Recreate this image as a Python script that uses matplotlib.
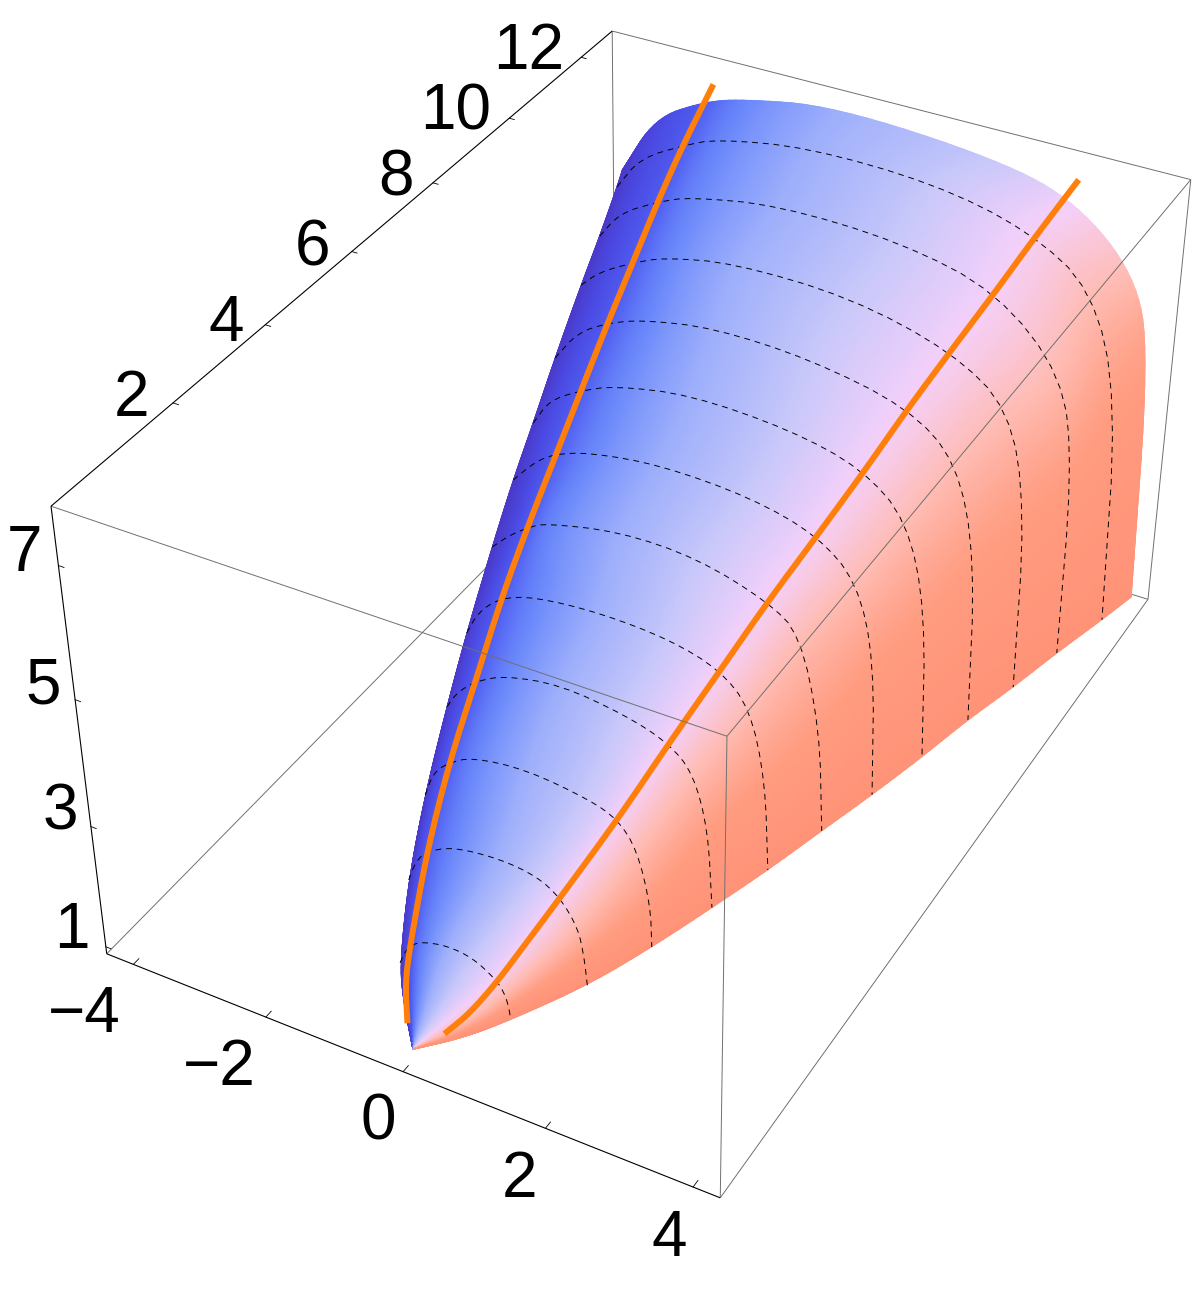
import numpy as np
import matplotlib
matplotlib.use("Agg")
from matplotlib import pyplot as plt
from matplotlib.colors import LinearSegmentedColormap

# Box ranges
x_lim = (-4.41, 4.36)
y_lim = (-0.45, 12.9)
z_lim = (0.88, 7.85)

# Tick values and labels
x_ticks = [-4, -2, 0, 2, 4]
y_ticks = [2, 4, 6, 8, 10, 12]
z_ticks = [1, 3, 5, 7]
x_labels = ["\u22124", "\u22122", "0", "2", "4"]

# Surface sections: one row per y level, same number of points across each row
levels = [0, 0.25, 1, 2, 3, 4, 5, 6, 7, 8, 9, 10, 11, 12, 12.5]
surf_x = [
    [-0.14] * 10,
    [-0.41, -0.37, -0.3, -0.18, -0.01, 0.17, 0.29, 0.37, 0.41, 0.44],
    [-0.93, -0.85, -0.74, -0.57, -0.22, 0.15, 0.49, 0.6, 0.65, 0.67],
    [-1.4, -1.29, -1.13, -0.72, -0.02, 0.51, 0.83, 1.08, 1.16, 1.2],
    [-1.74, -1.6, -1.38, -1.0, -0.2, 0.71, 1.1, 1.37, 1.56, 1.58],
    [-1.99, -1.83, -1.54, -1.09, -0.28, 0.66, 1.27, 1.63, 1.85, 1.92],
    [-2.27, -2.08, -1.73, -1.21, -0.25, 0.76, 1.48, 1.91, 2.15, 2.22],
    [-2.45, -2.17, -1.9, -1.63, -0.51, 0.62, 1.64, 2.11, 2.43, 2.51],
    [-2.7, -2.38, -2.07, -1.51, -0.46, 0.86, 1.83, 2.42, 2.71, 2.77],
    [-2.96, -2.69, -2.22, -1.68, -0.55, 0.93, 1.97, 2.64, 2.97, 3.04],
    [-3.18, -2.82, -2.34, -1.76, -0.73, 0.71, 2.14, 2.88, 3.22, 3.27],
    [-3.32, -3.02, -2.5, -2.0, -0.96, 0.79, 2.3, 3.17, 3.49, 3.51],
    [-3.58, -3.25, -2.65, -2.14, -0.81, 1.04, 2.48, 3.5, 3.74, 3.74],
    [-3.85, -3.47, -2.79, -2.25, -0.86, 1.04, 2.45, 3.45, 3.93, 4.01],
    [-4.04, -3.5, -2.75, -2.15, -0.72, 1.79, 2.94, 3.85, 4.15, 4.24],
]
surf_z = [
    [0.81] * 10,
    [1.31, 1.4, 1.49, 1.58, 1.57, 1.49, 1.33, 1.19, 1.11, 1.06],
    [1.09, 1.31, 1.48, 1.6, 1.69, 1.65, 1.42, 1.23, 1.03, 0.84],
    [1.5, 1.83, 2.08, 2.34, 2.43, 2.36, 2.15, 1.75, 1.3, 0.84],
    [2.04, 2.46, 2.71, 2.96, 3.07, 2.94, 2.78, 2.4, 1.56, 0.85],
    [2.7, 2.99, 3.29, 3.55, 3.71, 3.58, 3.37, 3.02, 2.17, 0.88],
    [3.14, 3.55, 3.91, 4.11, 4.2, 4.14, 3.92, 3.47, 2.38, 0.88],
    [3.84, 4.13, 4.34, 4.51, 4.76, 4.73, 4.4, 4.04, 2.61, 0.92],
    [4.23, 4.61, 4.86, 5.07, 5.22, 5.15, 4.88, 4.34, 3.18, 0.91],
    [4.48, 4.94, 5.24, 5.49, 5.71, 5.63, 5.36, 4.77, 3.42, 0.95],
    [4.9, 5.42, 5.73, 5.95, 6.14, 6.09, 5.78, 5.16, 3.69, 0.98],
    [5.5, 5.8, 6.1, 6.33, 6.55, 6.53, 6.13, 5.49, 3.97, 0.95],
    [5.69, 6.16, 6.51, 6.73, 6.98, 6.93, 6.57, 5.54, 4.1, 0.96],
    [5.91, 6.48, 6.87, 7.12, 7.37, 7.33, 7.0, 6.35, 4.72, 0.98],
    [5.88, 6.88, 7.33, 7.54, 7.81, 7.64, 7.3, 6.43, 5.27, 1.14],
]

# Orange curves
left_y = [0.15, 0.6, 1, 2, 3, 4, 5, 6, 7, 8, 9, 10, 11, 12, 12.8]
left_x = [-0.3, -0.6, -0.77, -1.1, -1.35, -1.53, -1.71, -1.9, -2.02, -2.18, -2.34, -2.5, -2.65, -2.79, -2.75]
left_z = [1.1, 1.22, 1.43, 2.1, 2.73, 3.32, 3.93, 4.34, 4.88, 5.31, 5.73, 6.1, 6.51, 6.87, 7.43]
right_y = [0.12, 0.3, 1, 1.5, 2, 3, 4, 5, 6, 7, 8, 9, 10, 11, 12, 12.7]
right_x = [0.29, 0.52, 0.49, 0.58, 0.83, 1.1, 1.27, 1.47, 1.64, 1.83, 2.02, 2.13, 2.27, 2.45, 2.57, 2.84]
right_z = [1.2, 1.47, 1.4, 1.62, 2.15, 2.79, 3.33, 3.89, 4.4, 4.87, 5.36, 5.74, 6.12, 6.56, 6.92, 7.49]

# Camera calibration: where the visible box corners sit in the picture
corner_index = [(0, 0, 0), (1, 0, 0), (0, 0, 1), (1, 0, 1), (0, 1, 1), (1, 1, 1), (1, 1, 0)]
corner_px = [(107, 954), (720, 1198), (51, 506), (727, 736), (612, 31), (1191, 180), (1148, 599)]

# Label anchors, picture pixels
x_label_px = [(84, 1009), (219, 1062), (378, 1117), (520, 1174), (669, 1233)]
y_label_px = [(132, 393), (226, 318), (313, 242), (396, 172), (456, 107), (529, 46)]
z_label_px = [(72, 925), (60, 806), (43, 681), (24, 548)]

surface_colors = ["#4a3ac8", "#4a48e0", "#4f5cf0", "#6a88fb", "#9fb0fb",
                  "#c8c8fa", "#f5d0fa", "#ffbcb4", "#ff9c80", "#ff9378"]
orange = "#ff7f0a"
grey = "#707070"


def fit_camera():
    rows = []
    for (i, j, k), (u, v) in zip(corner_index, corner_px):
        X = [x_lim[i], y_lim[j], z_lim[k], 1.0]
        rows.append(X + [0, 0, 0, 0] + [-u * c for c in X])
        rows.append([0, 0, 0, 0] + X + [-v * c for c in X])
    return np.linalg.svd(np.array(rows))[2][-1].reshape(3, 4)


cam = fit_camera()


def project(x, y, z):
    x, y, z = np.broadcast_arrays(np.asarray(x, float), np.asarray(y, float), np.asarray(z, float))
    h = cam @ np.array([x.ravel(), y.ravel(), z.ravel(), np.ones(x.size)])
    return (h[0] / h[2]).reshape(x.shape), (h[1] / h[2]).reshape(x.shape)


def smooth(a, n=3, axis=0):
    # corner cutting so the read points give round curves
    a = np.moveaxis(np.asarray(a, float), axis, 0)
    for _ in range(n):
        q = 0.75 * a[:-1] + 0.25 * a[1:]
        r = 0.25 * a[:-1] + 0.75 * a[1:]
        b = np.empty((2 * len(q),) + a.shape[1:])
        b[0::2] = q
        b[1::2] = r
        a = np.concatenate([a[:1], b, a[-1:]])
    return np.moveaxis(a, 0, axis)


fig = plt.figure(figsize=(11.93, 12.90), dpi=100)
ax = fig.add_axes([0, 0, 1, 1])
ax.set_xlim(0, 1193)
ax.set_ylim(1290, 0)
ax.axis("off")


def edge(a, b, color, lw, z):
    u, v = project([x_lim[a[0]], x_lim[b[0]]], [y_lim[a[1]], y_lim[b[1]]], [z_lim[a[2]], z_lim[b[2]]])
    ax.plot(u, v, color=color, lw=lw, zorder=z, solid_capstyle="butt")


# Box: back edges under the surface, front edges over it
for a, b in [((0, 0, 0), (0, 1, 0)), ((0, 1, 0), (1, 1, 0)), ((0, 1, 0), (0, 1, 1))]:
    edge(a, b, grey, 0.7, 1)
for a, b in [((0, 0, 1), (1, 0, 1)), ((1, 0, 1), (1, 0, 0)), ((1, 0, 1), (1, 1, 1)),
             ((1, 0, 0), (1, 1, 0)), ((1, 1, 0), (1, 1, 1)), ((0, 1, 1), (1, 1, 1))]:
    edge(a, b, grey, 0.7, 5)
for a, b in [((0, 0, 0), (1, 0, 0)), ((0, 0, 0), (0, 0, 1)), ((0, 0, 1), (0, 1, 1))]:
    edge(a, b, "black", 0.8, 5)

# Ticks
for t in x_ticks:
    u, v = project([t, t], [y_lim[0], y_lim[0] + 0.12], [z_lim[0], z_lim[0]])
    ax.plot(u, v, color="black", lw=0.6, zorder=5)
for t in y_ticks:
    u, v = project([x_lim[0], x_lim[0] + 0.08], [t, t], [z_lim[1], z_lim[1]])
    ax.plot(u, v, color="black", lw=0.6, zorder=5)
for t in z_ticks:
    u, v = project([x_lim[0], x_lim[0] + 0.08], [y_lim[0], y_lim[0]], [t, t])
    ax.plot(u, v, color="black", lw=0.6, zorder=5)

# Surface
n_cols = len(surf_x[0])
yy = np.array(levels)[:, None] * np.ones(n_cols)
su, sv = project(surf_x, yy, surf_z)
mu = smooth(smooth(su, 3, 0), 3, 1)
mv = smooth(smooth(sv, 3, 0), 3, 1)
tc = smooth(smooth(np.ones((len(levels), 1)) * np.arange(float(n_cols)), 3, 0), 3, 1)
cmap = LinearSegmentedColormap.from_list("surf", [(i / (n_cols - 1), c) for i, c in enumerate(surface_colors)])
ax.pcolormesh(mu, mv, tc, cmap=cmap, vmin=0, vmax=n_cols - 1, shading="gouraud", zorder=2, rasterized=True)

# Dashed sections at the whole y levels
for k, y in enumerate(levels):
    if y in (0, 0.25, 12.5):
        continue
    ax.plot(smooth(su[k], 2), smooth(sv[k], 2), color="black", lw=0.7, dashes=(6, 5), zorder=3)

# Orange curves
u, v = project(left_x, left_y, left_z)
ax.plot(smooth(u, 2), smooth(v, 2), color=orange, lw=4.3, zorder=4)
u, v = project(right_x, right_y, right_z)
ax.plot(smooth(u, 2), smooth(v, 2), color=orange, lw=4.3, zorder=4)

# Tick labels
font = dict(family="Liberation Sans", fontsize=46, ha="center", va="baseline", color="black")
for s, (u, v) in zip(x_labels, x_label_px):
    ax.text(u, v + 23, s, **font)
for t, (u, v) in zip(y_ticks, y_label_px):
    ax.text(u, v + 23, str(t), **font)
for t, (u, v) in zip(z_ticks, z_label_px):
    ax.text(u, v + 23, str(t), **font)

fig.savefig("out.png", dpi=100)
